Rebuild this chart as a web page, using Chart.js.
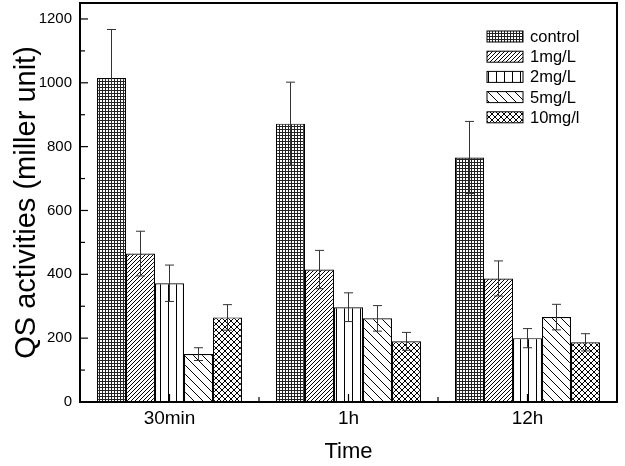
<!DOCTYPE html>
<html lang="en">
<head>
    <meta charset="UTF-8">
    <title>QS activities</title>
    <script src="https://cdn.jsdelivr.net/npm/chart.js"></script>
    <style>
        body { margin: 0; background: #fff; }
        #grafico { display: block; }
    </style>
</head>
<body>
    <canvas id="grafico" width="625" height="466"></canvas>

<script>
    // dados
    const tempos = ['30min', '1h', '12h'];
    const nomesSeries = ['control', '1mg/L', '2mg/L', '5mg/L', '10mg/l'];

    const control = [1015, 872, 766];
    const mg1 = [465, 415, 387];
    const mg2 = [372, 297, 200];
    const mg5 = [150, 262, 266];
    const mg10 = [265, 190, 187];

    const errControl = [152, 130, 113];
    const errMg1 = [70, 60, 55];
    const errMg2 = [57, 45, 30];
    const errMg5 = [20, 40, 40];
    const errMg10 = [40, 28, 27];

    const ticksY = [0, 200, 400, 600, 800, 1000, 1200];

    // padrões de hachura
    function criarPadrao(w, h, desenhar) {
        const c = document.createElement('canvas');
        c.width = w;
        c.height = h;
        const g = c.getContext('2d');
        g.fillStyle = '#fff';
        g.fillRect(0, 0, w, h);
        g.strokeStyle = '#000';
        g.fillStyle = '#000';
        g.lineWidth = 1;
        desenhar(g, w, h);
        return g.createPattern(c, 'repeat');
    }

    const padraoGrade = criarPadrao(3, 3, (g, w, h) => {
        g.fillStyle = '#222';
        g.fillRect(0, 0, w, 1);
        g.fillRect(0, 0, 1, h);
    });
    const padraoBarra = criarPadrao(4, 4, (g, w, h) => {
        g.beginPath();
        g.moveTo(0, h); g.lineTo(w, 0);
        g.moveTo(-1, 1); g.lineTo(1, -1);
        g.moveTo(w - 1, h + 1); g.lineTo(w + 1, h - 1);
        g.stroke();
    });
    const padraoVertical = criarPadrao(8, 4, (g, w, h) => {
        g.fillRect(0, 0, 1, h);
    });
    const padraoContraBarra = criarPadrao(9, 9, (g, w, h) => {
        g.beginPath();
        g.moveTo(0, 0); g.lineTo(w, h);
        g.moveTo(-1, h - 1); g.lineTo(1, h + 1);
        g.moveTo(w - 1, -1); g.lineTo(w + 1, 1);
        g.stroke();
    });
    const padraoXadrez = criarPadrao(6, 6, (g, w, h) => {
        g.beginPath();
        g.moveTo(0, 0); g.lineTo(w, h);
        g.moveTo(-1, h - 1); g.lineTo(1, h + 1);
        g.moveTo(w - 1, -1); g.lineTo(w + 1, 1);
        g.moveTo(0, h); g.lineTo(w, 0);
        g.moveTo(-1, 1); g.lineTo(1, -1);
        g.moveTo(w - 1, h + 1); g.lineTo(w + 1, h - 1);
        g.stroke();
    });

    const valores = [control, mg1, mg2, mg5, mg10];
    const erros = [errControl, errMg1, errMg2, errMg5, errMg10];
    const padroes = [padraoGrade, padraoBarra, padraoVertical, padraoContraBarra, padraoXadrez];

    const datasets = nomesSeries.map((nome, i) => ({
        label: nome,
        data: valores[i],
        erros: erros[i],
        backgroundColor: padroes[i],
        borderColor: '#000',
        borderWidth: 1.2
    }));

    // barras de erro, marcas internas e moldura
    const pluginExtras = {
        id: 'extras',
        afterDatasetsDraw(chart) {
            const ctx = chart.ctx;
            const y = chart.scales.y;
            const x = chart.scales.x;
            const area = chart.chartArea;

            ctx.save();
            ctx.strokeStyle = '#333';
            ctx.lineWidth = 1;
            chart.data.datasets.forEach((ds, i) => {
                const meta = chart.getDatasetMeta(i);
                meta.data.forEach((bar, j) => {
                    const v = ds.data[j];
                    const e = ds.erros[j];
                    const yTop = y.getPixelForValue(v + e);
                    const yBot = y.getPixelForValue(v - e);
                    ctx.beginPath();
                    ctx.moveTo(bar.x, yTop);
                    ctx.lineTo(bar.x, yBot);
                    ctx.moveTo(bar.x - 4.5, yTop);
                    ctx.lineTo(bar.x + 4.5, yTop);
                    ctx.moveTo(bar.x - 4.5, yBot);
                    ctx.lineTo(bar.x + 4.5, yBot);
                    ctx.stroke();
                });
            });

            // marcas do eixo y (para dentro)
            ctx.strokeStyle = '#000';
            ctx.lineWidth = 1.2;
            y.ticks.forEach(t => {
                const py = y.getPixelForValue(t.value);
                const len = t.value % 200 === 0 ? 8 : 5;
                ctx.beginPath();
                ctx.moveTo(area.left, py);
                ctx.lineTo(area.left + len, py);
                ctx.stroke();
            });

            // marcas do eixo x
            const larg = (area.right - area.left) / tempos.length;
            tempos.forEach((t, i) => {
                const px = x.getPixelForValue(i);
                ctx.beginPath();
                ctx.moveTo(px, area.bottom);
                ctx.lineTo(px, area.bottom - 8);
                ctx.stroke();
                if (i > 0) {
                    const pb = px - larg / 2;
                    ctx.beginPath();
                    ctx.moveTo(pb, area.bottom);
                    ctx.lineTo(pb, area.bottom - 5);
                    ctx.stroke();
                }
            });

            // moldura
            ctx.lineWidth = 2;
            ctx.strokeRect(area.left, area.top, area.right - area.left, area.bottom - area.top);
            ctx.restore();
        },
        afterDraw(chart) {
            // legenda dentro do gráfico
            const ctx = chart.ctx;
            ctx.save();
            ctx.font = '16.5px "Liberation Sans", Arial, sans-serif';
            ctx.textBaseline = 'middle';
            ctx.fillStyle = '#000';
            chart.data.datasets.forEach((ds, i) => {
                const cy = 36.5 + i * 20.2;
                ctx.fillStyle = ds.backgroundColor;
                ctx.fillRect(487, cy - 5.5, 36, 11);
                ctx.strokeStyle = '#000';
                ctx.lineWidth = 1;
                ctx.strokeRect(487, cy - 5.5, 36, 11);
                ctx.fillStyle = '#000';
                ctx.fillText(ds.label, 530, cy + 1);
            });
            ctx.restore();
        }
    };

    const ctx = document.getElementById('grafico').getContext('2d');
    new Chart(ctx, {
        type: 'bar',
        data: { labels: tempos, datasets },
        options: {
            responsive: false,
            animation: false,
            layout: { padding: { top: 3, right: 8, left: 0, bottom: 0 } },
            datasets: {
                bar: { barPercentage: 1, categoryPercentage: 0.81 }
            },
            scales: {
                x: {
                    grid: { display: false, drawTicks: false },
                    border: { display: false },
                    ticks: {
                        color: '#000',
                        padding: 5,
                        font: { family: '"Liberation Sans", Arial, sans-serif', size: 19 }
                    },
                    title: {
                        display: true,
                        text: 'Time',
                        color: '#000',
                        padding: { top: 0, bottom: 1 },
                        font: { family: '"Liberation Sans", Arial, sans-serif', size: 22 }
                    },
                    afterFit: s => {
                        s.height = 64;
                        s.paddingLeft = 0;
                        s.paddingRight = 0;
                    }
                },
                y: {
                    min: 0,
                    max: 1250,
                    grid: { display: false, drawTicks: false },
                    border: { display: false },
                    ticks: {
                        stepSize: 100,
                        includeBounds: false,
                        color: '#000',
                        padding: 8,
                        font: { family: '"Liberation Sans", Arial, sans-serif', size: 15 },
                        callback: v => ticksY.includes(v) ? v : ''
                    },
                    title: {
                        display: true,
                        text: 'QS activities (miller unit)',
                        color: '#000',
                        padding: { top: 10, bottom: 0 },
                        font: { family: '"Liberation Sans", Arial, sans-serif', size: 29 }
                    },
                    afterFit: s => {
                        s.width = 80;
                        s.paddingTop = 0;
                        s.paddingBottom = 0;
                    }
                }
            },
            plugins: {
                legend: { display: false },
                tooltip: { enabled: false }
            }
        },
        plugins: [pluginExtras]
    });
</script>
</body>
</html>
